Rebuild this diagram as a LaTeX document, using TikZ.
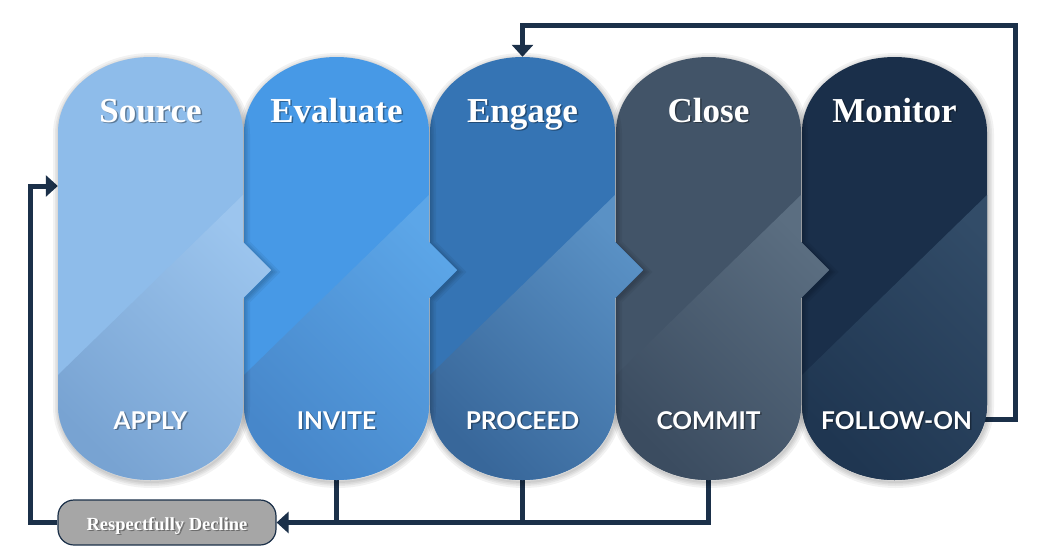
\documentclass[tikz,border=0pt]{standalone}
\usepackage{fontspec}
\setmainfont{Liberation Serif}
\setsansfont{Lato}
\usetikzlibrary{arrows.meta}
\definecolor{navy}{HTML}{1B3049}
\definecolor{declgray}{HTML}{A6A6A6}
\definecolor{cA}{HTML}{8EBCEA}\definecolor{cAd}{HTML}{78A3D2}\definecolor{cAl}{HTML}{9CC5EE}
\definecolor{cB}{HTML}{4799E6}\definecolor{cBd}{HTML}{4787CA}\definecolor{cBl}{HTML}{5CA6E8}
\definecolor{cC}{HTML}{3574B4}\definecolor{cCd}{HTML}{38679A}\definecolor{cCl}{HTML}{5A91C5}
\definecolor{cD}{HTML}{425468}\definecolor{cDd}{HTML}{3B4C60}\definecolor{cDl}{HTML}{5B6E81}
\definecolor{cE}{HTML}{1A2F4A}\definecolor{cEd}{HTML}{1F3651}\definecolor{cEl}{HTML}{324C68}
% #1 = left edge, #2 = depth of the notch arrow (0 for none)
\newcommand\pillpath[2]{(#1,132) arc[start angle=180,end angle=0,x radius=92.5pt,y radius=75pt] -- (#1+185,242) -- (#1+185+#2,270) -- (#1+185,298) -- (#1+185,405) arc[start angle=0,end angle=-180,x radius=92.5pt,y radius=75pt] -- cycle}
\newcommand\drawpill[5]{%
  \begin{scope}[shift={(1,2)}]
    \foreach \w in {12,8,5,2}{\draw[black,opacity=0.05,line width=\w pt] \pillpath{#1}{#5};}
  \end{scope}
  \fill[#2] \pillpath{#1}{#5};
  \begin{scope}
    \clip \pillpath{#1}{#5};
    \shade[bottom color=#3,top color=#4,shading angle=-45] (#1,375) -- (#1+185,195) -- (#1+220,195) -- (#1+220,485) -- (#1-2,485) -- cycle;
  \end{scope}}
\newcommand\shtext[5]{%
  \node[#4,text=black,opacity=0.35] (#1-s) at (#2+1.5,#3+1.8) {#5};
  \node[#4] (#1) at (#2,#3) {#5};}
\begin{document}
\begin{tikzpicture}[x=1pt,y=-1pt,
  pillbox/.style={minimum width=185pt,minimum height=423pt,inner sep=0pt,draw=none},
  ttl/.style={anchor=base,inner sep=0pt,text=white,font=\bfseries\fontsize{35}{40}\selectfont},
  lbl/.style={anchor=base,inner sep=0pt,text=white,font=\sffamily\bfseries\fontsize{24.5}{28}\selectfont},
  dtxt/.style={anchor=base,inner sep=0pt,text=white,font=\bfseries\fontsize{18.5}{22}\selectfont},
  conn/.style={draw=navy,line width=5pt},
  tip/.style={-{Triangle[width=21pt,length=12pt]}},
  decbox/.style={draw=navy,line width=1.2pt,fill=declgray,rounded corners=16pt,minimum width=218pt,minimum height=45pt,inner sep=0pt}]
\fill[white] (0,0) rectangle (1050,552);
\useasboundingbox (0,0) rectangle (1050,552);
% invisible frames of the stages
\node[pillbox] (src) at (150.5,268.5) {};
\node[pillbox] (eval) at (336.5,268.5) {};
\node[pillbox] (eng) at (522.5,268.5) {};
\node[pillbox] (close) at (708.5,268.5) {};
\node[pillbox] (mon) at (894.5,268.5) {};
\node[decbox] (dec) at (167,522.5) {};
% connectors
\coordinate (monR) at (1015.5,419.5);
\coordinate (topR) at (1015.5,25.5);
\coordinate (bl) at (30,522.5);
\draw[conn,tip] (mon.center |- monR) -- (monR) -- (topR) -| (eng.north);
\draw[conn,tip] (dec.west) -- (bl) |- ([yshift=82.5pt]src.west);
\draw[conn,tip] (close.center) |- (dec.east);
\draw[conn] (eval.center) -- (eval.center |- dec.east);
\draw[conn] (eng.center) -- (eng.center |- dec.east);
% stages
\drawpill{802}{cE}{cEd}{cEl}{0}
\drawpill{616}{cD}{cDd}{cDl}{28}
\drawpill{430}{cC}{cCd}{cCl}{28}
\drawpill{244}{cB}{cBd}{cBl}{28}
\drawpill{58}{cA}{cAd}{cAl}{28}
% titles
\shtext{tA}{150.5}{122}{ttl}{Source}
\shtext{tB}{336.5}{122}{ttl}{Evaluate}
\shtext{tC}{522.5}{122}{ttl}{Engage}
\shtext{tD}{708.5}{122}{ttl}{Close}
\shtext{tE}{894.5}{122}{ttl}{Monitor}
% labels
\shtext{lA}{150.5}{429}{lbl}{APPLY}
\shtext{lB}{336.5}{429}{lbl}{INVITE}
\shtext{lC}{522.5}{429}{lbl}{PROCEED}
\shtext{lD}{708.5}{429}{lbl}{COMMIT}
\shtext{lE}{896.5}{429}{lbl}{FOLLOW-ON}
\shtext{dT}{167}{530}{dtxt}{Respectfully Decline}
\end{tikzpicture}
\end{document}
